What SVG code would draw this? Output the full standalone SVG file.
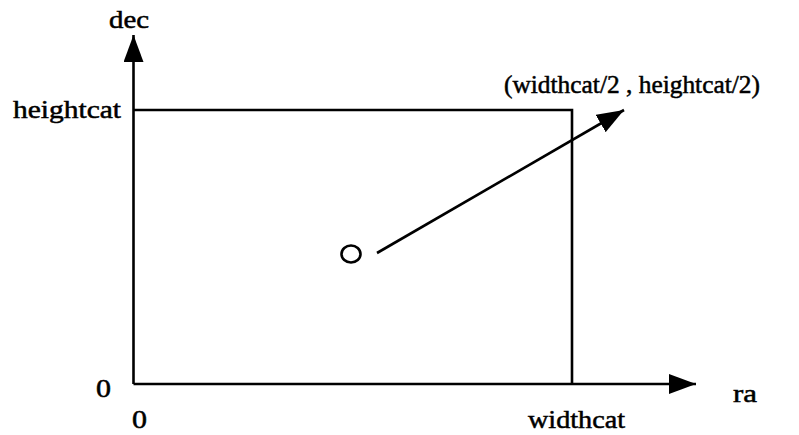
<svg xmlns="http://www.w3.org/2000/svg" width="799" height="435" viewBox="0 0 799 435">
<style>
text{font-family:"Liberation Serif","Times New Roman",serif;font-size:25px;fill:#000;stroke:#000;stroke-width:0.5}
.ln{stroke:#000;stroke-width:2.6;fill:none}
</style>
<defs>
<marker id="ah" markerWidth="27" markerHeight="20" refX="27" refY="10" orient="auto" markerUnits="userSpaceOnUse">
<path d="M0,0 L27,10 L0,20 Z" fill="#000"/>
</marker>
</defs>
<rect width="799" height="435" fill="#fff"/>
<g id="connectors">
<line class="ln" x1="133.5" y1="384" x2="133.5" y2="35" marker-end="url(#ah)"/>
<line class="ln" x1="133.5" y1="384" x2="696" y2="384" marker-end="url(#ah)"/>
<line class="ln" x1="377" y1="253" x2="624" y2="110" marker-end="url(#ah)"/>
</g>
<g id="catalog">
<polyline class="ln" points="133.5,110 572,110 572,384"/>
</g>
<g id="center">
<ellipse class="ln" cx="351" cy="254" rx="9.5" ry="8.5"/>
</g>
<g id="labels">
<text x="109" y="28" textLength="40" lengthAdjust="spacingAndGlyphs">dec</text>
<text x="13" y="118" textLength="108" lengthAdjust="spacingAndGlyphs">heightcat</text>
<text x="504" y="93" textLength="256" lengthAdjust="spacingAndGlyphs">(widthcat/2 , heightcat/2)</text>
<text x="96" y="397" textLength="15" lengthAdjust="spacingAndGlyphs">0</text>
<text x="132" y="428" textLength="15" lengthAdjust="spacingAndGlyphs">0</text>
<text x="528" y="428" textLength="97" lengthAdjust="spacingAndGlyphs">widthcat</text>
<text x="733" y="402" textLength="24" lengthAdjust="spacingAndGlyphs">ra</text>
</g>
</svg>
